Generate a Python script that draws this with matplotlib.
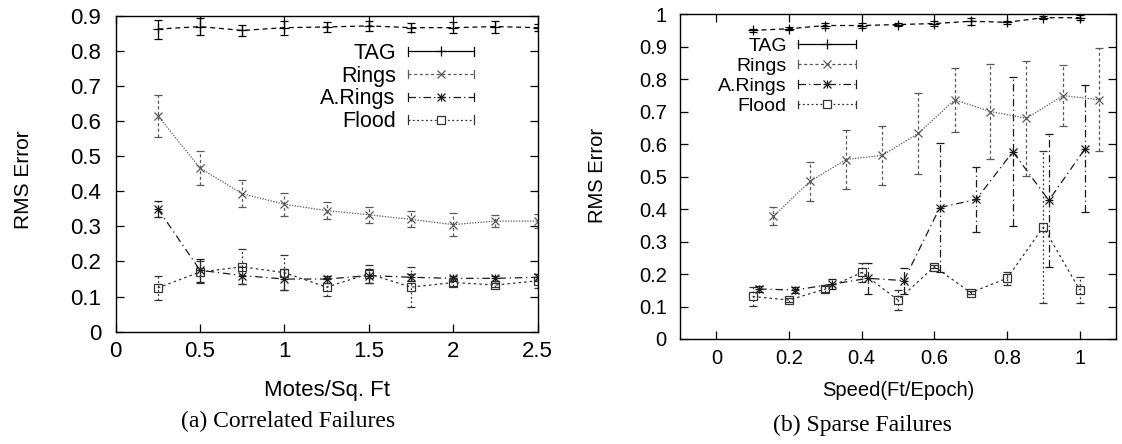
import matplotlib
matplotlib.use('Agg')
import matplotlib.pyplot as plt
from matplotlib.lines import Line2D
from matplotlib.legend_handler import HandlerBase
from matplotlib.ticker import FuncFormatter, MultipleLocator

plt.rcParams['font.family'] = ['Liberation Sans', 'DejaVu Sans']

# (a) Correlated Failures -- erro RMS por densidade de motes
densidade = [0.25, 0.5, 0.75, 1.0, 1.25, 1.5, 1.75, 2.0, 2.25, 2.5]
tag_a = [0.862, 0.869, 0.858, 0.866, 0.868, 0.871, 0.866, 0.866, 0.869, 0.866]
tag_a_err = [0.027, 0.025, 0.016, 0.02, 0.013, 0.014, 0.013, 0.015, 0.017, 0.01]
rings_a = [0.615, 0.466, 0.393, 0.363, 0.345, 0.333, 0.32, 0.305, 0.315, 0.315]
rings_a_err = [0.06, 0.048, 0.038, 0.033, 0.025, 0.022, 0.023, 0.032, 0.016, 0.021]
arings_a = [0.35, 0.175, 0.16, 0.15, 0.15, 0.16, 0.155, 0.152, 0.152, 0.155]
arings_a_err = [0.023, 0.033, 0.025, 0.03, 0.01, 0.02, 0.01, 0.008, 0.008, 0.01]
flood_a = [0.125, 0.17, 0.185, 0.168, 0.127, 0.165, 0.127, 0.14, 0.133, 0.145]
flood_a_err = [0.035, 0.03, 0.05, 0.05, 0.025, 0.025, 0.058, 0.01, 0.005, 0.02]

# (b) Sparse Failures -- erro RMS por velocidade
vel_tag = [0.1, 0.2, 0.3, 0.4, 0.5, 0.6, 0.7, 0.8, 0.9, 1.0]
tag_b = [0.951, 0.956, 0.966, 0.966, 0.969, 0.972, 0.979, 0.976, 0.99, 0.99]
tag_b_err = [0.005, 0.005, 0.008, 0.008, 0.005, 0.008, 0.01, 0.005, 0.005, 0.008]
vel_rings = [0.157, 0.258, 0.357, 0.457, 0.556, 0.656, 0.754, 0.853, 0.954, 1.054]
rings_b = [0.378, 0.486, 0.553, 0.566, 0.634, 0.737, 0.701, 0.68, 0.75, 0.737]
rings_b_err = [0.028, 0.06, 0.09, 0.09, 0.125, 0.098, 0.145, 0.177, 0.093, 0.159]
vel_arings = [0.118, 0.217, 0.319, 0.417, 0.516, 0.615, 0.715, 0.816, 0.915, 1.015]
arings_b = [0.154, 0.151, 0.169, 0.187, 0.18, 0.405, 0.43, 0.577, 0.427, 0.587]
arings_b_err = [0.01, 0.008, 0.015, 0.048, 0.04, 0.2, 0.1, 0.23, 0.205, 0.196]
vel_flood = [0.1, 0.2, 0.3, 0.4, 0.5, 0.6, 0.7, 0.8, 0.9, 1.0]
flood_b = [0.131, 0.12, 0.154, 0.205, 0.12, 0.223, 0.143, 0.187, 0.345, 0.151]
flood_b_err = [0.03, 0.005, 0.01, 0.03, 0.032, 0.005, 0.005, 0.02, 0.235, 0.04]

nomes = ['TAG', 'Rings', 'A.Rings', 'Flood']

# estilo "gnuplot" de cada série
estilos = {
    'TAG': dict(cor='black', ls=(0, (4, 3)), errls='-', marcadores=['+'], ms=7),
    'Rings': dict(cor='0.35', ls=(0, (1, 1.2)), errls=(0, (2.5, 2)), marcadores=['x'], ms=5.5),
    'A.Rings': dict(cor='0.1', ls=(0, (6, 3, 1, 3)), errls=(0, (6, 2.5, 1, 2.5)), marcadores=['x', '+'], ms=6),
    'Flood': dict(cor='0.2', ls=(0, (2, 2.5)), errls=(0, (1.5, 2)), marcadores=['s'], ms=5.5),
}


def desenhar_serie(ax, x, y, err, nome):
    e = estilos[nome]
    cont = ax.errorbar(x, y, yerr=err, color=e['cor'], ls=e['ls'], lw=0.9,
                       marker=e['marcadores'][0], ms=e['ms'], mfc='none', mec=e['cor'],
                       mew=0.9, capsize=3, capthick=0.9, elinewidth=0.9, ecolor=e['cor'])
    cont.lines[2][0].set_linestyle(e['errls'])
    for m in e['marcadores'][1:]:
        ax.plot(x, y, ls='none', marker=m, ms=e['ms'], mec=e['cor'], mfc='none', mew=0.9)


class HandlerGnuplot(HandlerBase):
    # linha horizontal com "caps" nas pontas e marcador no meio
    def __init__(self, nome):
        super().__init__()
        self.nome = nome

    def create_artists(self, legend, orig_handle, xdescent, ydescent, width, height, fontsize, trans):
        e = estilos[self.nome]
        x0, x1 = -xdescent, -xdescent + width
        y = -ydescent + height / 2
        c = 0.28 * height
        arts = [Line2D([x0, x1], [y, y], color=e['cor'], ls=e['errls'], lw=0.9),
                Line2D([x0, x0], [y - c, y + c], color=e['cor'], lw=0.9),
                Line2D([x1, x1], [y - c, y + c], color=e['cor'], lw=0.9)]
        for m in e['marcadores']:
            arts.append(Line2D([(x0 + x1) / 2], [y], marker=m, ms=e['ms'], mec=e['cor'],
                               mfc='white', mew=0.9, ls='none'))
        for a in arts:
            a.set_transform(trans)
        return arts


def configurar_eixo(ax, fs, pad_y, pad_x):
    ax.tick_params(direction='in', which='both', top=True, right=True, length=6,
                   labelsize=fs, width=0.9)
    ax.tick_params(axis='y', pad=pad_y)
    ax.tick_params(axis='x', pad=pad_x)
    fmt = FuncFormatter(lambda v, p: f"{v:g}")
    ax.xaxis.set_major_formatter(fmt)
    ax.yaxis.set_major_formatter(fmt)
    for s in ax.spines.values():
        s.set_linewidth(1.0)


fig = plt.figure(figsize=(11.22, 4.44), dpi=100)

# painel (a)
ax1 = fig.add_axes([0.1031, 0.2529, 0.376, 0.7117])
desenhar_serie(ax1, densidade, tag_a, tag_a_err, 'TAG')
desenhar_serie(ax1, densidade, rings_a, rings_a_err, 'Rings')
desenhar_serie(ax1, densidade, arings_a, arings_a_err, 'A.Rings')
desenhar_serie(ax1, densidade, flood_a, flood_a_err, 'Flood')
ax1.set_xlim(0, 2.5)
ax1.set_ylim(0, 0.9)
ax1.xaxis.set_major_locator(MultipleLocator(0.5))
ax1.yaxis.set_major_locator(MultipleLocator(0.1))
configurar_eixo(ax1, 16, 10.5, 7)
ax1.set_xlabel('Motes/Sq. Ft', fontsize=16)
ax1.xaxis.label.set_va('center')
ax1.xaxis.set_label_coords(0.5, -0.187)
ax1.set_ylabel('RMS Error', fontsize=15)
ax1.yaxis.label.set_va('center')
ax1.yaxis.set_label_coords(-0.218, 0.48)

proxies1 = [Line2D([], [], label=n) for n in nomes]
ax1.legend(handles=proxies1, handler_map={p: HandlerGnuplot(n) for p, n in zip(proxies1, nomes)},
           loc='upper right', bbox_to_anchor=(0.849, 0.914), frameon=False, markerfirst=False,
           fontsize=15.5, handlelength=3.07, handletextpad=0.56, labelspacing=0.08,
           borderpad=0, borderaxespad=0)

# painel (b)
ax2 = fig.add_axes([0.6061, 0.2365, 0.3886, 0.7309])
desenhar_serie(ax2, vel_tag, tag_b, tag_b_err, 'TAG')
desenhar_serie(ax2, vel_rings, rings_b, rings_b_err, 'Rings')
desenhar_serie(ax2, vel_arings, arings_b, arings_b_err, 'A.Rings')
desenhar_serie(ax2, vel_flood, flood_b, flood_b_err, 'Flood')
ax2.set_xlim(-0.1, 1.1)
ax2.set_ylim(0, 1)
ax2.set_xticks([0, 0.2, 0.4, 0.6, 0.8, 1.0])
ax2.yaxis.set_major_locator(MultipleLocator(0.1))
configurar_eixo(ax2, 14.5, 9.5, 7)
ax2.set_xlabel('Speed(Ft/Epoch)', fontsize=14.5)
ax2.xaxis.label.set_va('center')
ax2.xaxis.set_label_coords(0.5, -0.160)
ax2.set_ylabel('RMS Error', fontsize=14.5)
ax2.yaxis.label.set_va('center')
ax2.yaxis.set_label_coords(-0.189, 0.505)

proxies2 = [Line2D([], [], label=n) for n in nomes]
ax2.legend(handles=proxies2, handler_map={p: HandlerGnuplot(n) for p, n in zip(proxies2, nomes)},
           loc='upper right', bbox_to_anchor=(0.404, 0.930), frameon=False, markerfirst=False,
           fontsize=14, handlelength=3.0, handletextpad=0.57, labelspacing=0.13,
           borderpad=0, borderaxespad=0)

# legendas das figuras
fig.text(0.2565, 0.050, '(a) Correlated Failures', ha='center', va='center',
         fontsize=17, family=['Liberation Serif', 'DejaVu Serif'])
fig.text(0.769, 0.043, '(b) Sparse Failures', ha='center', va='center',
         fontsize=17, family=['Liberation Serif', 'DejaVu Serif'])

fig.savefig('out.png', dpi=100)
